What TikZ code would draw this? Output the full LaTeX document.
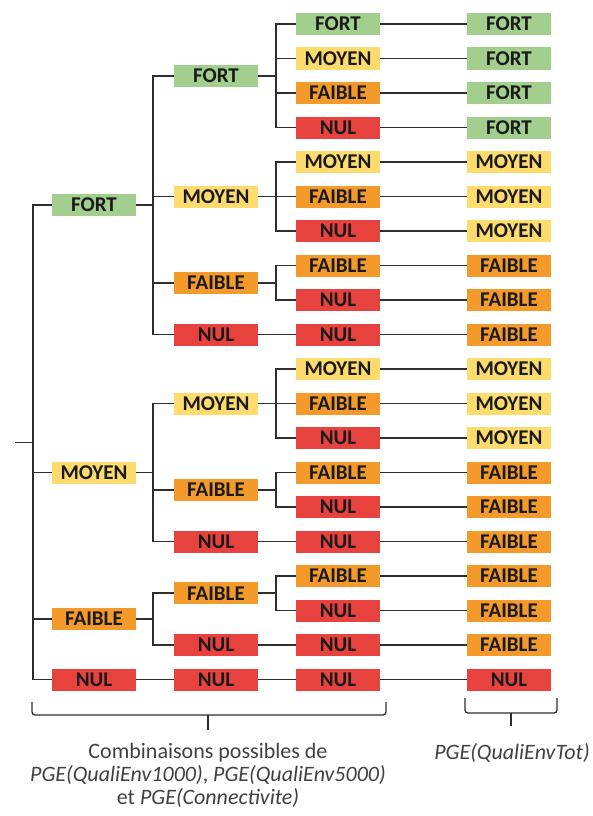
\documentclass[tikz,border=0pt]{standalone}
\usepackage{fontspec}
\setmainfont{Carlito}
\definecolor{cg}{HTML}{A3CF8E}
\definecolor{cy}{HTML}{FDDB6D}
\definecolor{co}{HTML}{F39A2A}
\definecolor{cr}{HTML}{E8423F}
\definecolor{ln}{HTML}{2E2E2E}
\definecolor{tx}{HTML}{1A1A1A}
\tikzset{
  box/.style={minimum width=84pt, minimum height=22pt, inner sep=0pt,
    font=\bfseries\fontsize{21}{21}\selectfont, text=tx},
  FORT/.style={box, fill=cg},
  MOYEN/.style={box, fill=cy},
  FAIBLE/.style={box, fill=co},
  NUL/.style={box, fill=cr},
  conn/.style={draw=ln, line width=1.6pt},
  brace/.style={draw=ln, line width=1.3pt, rounded corners=3pt},
  caption/.style={font=\fontsize{22}{23}\selectfont, text=black!75, align=center, inner sep=0pt}
}
\begin{document}
\begin{tikzpicture}[x=1pt, y=-1pt]
\useasboundingbox (0,0) rectangle (592,816);
% level 3 and 4
\foreach \i/\a/\b in {1/FORT/FORT, 2/MOYEN/FORT, 3/FAIBLE/FORT, 4/NUL/FORT,
  5/MOYEN/MOYEN, 6/FAIBLE/MOYEN, 7/NUL/MOYEN, 8/FAIBLE/FAIBLE, 9/NUL/FAIBLE,
  10/NUL/FAIBLE, 11/MOYEN/MOYEN, 12/FAIBLE/MOYEN, 13/NUL/MOYEN, 14/FAIBLE/FAIBLE,
  15/NUL/FAIBLE, 16/NUL/FAIBLE, 17/FAIBLE/FAIBLE, 18/NUL/FAIBLE, 19/NUL/FAIBLE,
  20/NUL/NUL} {
  \pgfmathsetmacro{\yy}{24+(\i-1)*34.5}
  \node[\a] (c3-\i) at (338,\yy) {\a};
  \node[\b] (c4-\i) at (509,\yy) {\b};
  \draw[conn] (c3-\i.east) -- (c4-\i.west);
}
% level 2
\node[FORT]   (b1)  at (216,75.75)  {FORT};
\node[MOYEN]  (b2)  at (216,196.5)  {MOYEN};
\node[FAIBLE] (b3)  at (216,282.75) {FAIBLE};
\node[NUL]    (b4)  at (216,334.5)  {NUL};
\node[MOYEN]  (b5)  at (216,403.5)  {MOYEN};
\node[FAIBLE] (b6)  at (216,489.75) {FAIBLE};
\node[NUL]    (b7)  at (216,541.5)  {NUL};
\node[FAIBLE] (b8)  at (216,593.25) {FAIBLE};
\node[NUL]    (b9)  at (216,645)    {NUL};
\node[NUL]    (b10) at (216,679.5)  {NUL};
% level 1
\node[FORT]   (a1) at (94,205.1)  {FORT};
\node[MOYEN]  (a2) at (94,472.5)  {MOYEN};
\node[FAIBLE] (a3) at (94,619.1)  {FAIBLE};
\node[NUL]    (a4) at (94,679.5)  {NUL};
% level2 -> level3
\foreach \p/\cs in {b1/{1,2,3,4}, b2/{5,6,7}, b3/{8,9}, b5/{11,12,13}, b6/{14,15}, b8/{17,18}} {
  \foreach \c in \cs {
    \draw[conn] (\p.east) -- ([xshift=18pt]\p.east) |- (c3-\c.west);
  }
}
\foreach \p/\c in {b4/10, b7/16, b9/19, b10/20} {
  \draw[conn] (\p.east) -- (c3-\c.west);
}
% level1 -> level2
\foreach \p/\cs in {a1/{b1,b2,b3,b4}, a2/{b5,b6,b7}, a3/{b8,b9}} {
  \foreach \c in \cs {
    \draw[conn] (\p.east) -- ([xshift=17pt]\p.east) |- (\c.west);
  }
}
\draw[conn] (a4.east) -- (b10.west);
% trunk
\coordinate (tr) at (33,442.5);
\coordinate (st) at (15,442.5);
\foreach \c in {a1,a2,a3,a4} {
  \draw[conn] (tr) |- (\c.west);
}
\draw[conn] (st) -- (tr);
% braces
\coordinate (bl1) at (32,702);
\coordinate (bl2) at (386,702);
\coordinate (bt1) at (208,730);
\draw[brace] (bl1) -- (32,715) -- (386,715) -- (bl2);
\draw[draw=ln, line width=1.3pt] (208,715) -- (bt1);
\coordinate (br1) at (465,698);
\coordinate (br2) at (557,698);
\coordinate (bt2) at (511,726);
\draw[brace] (br1) -- (465,713) -- (557,713) -- (br2);
\draw[draw=ln, line width=1.3pt] (511,713) -- (bt2);
% captions
\node[caption, anchor=north] (cap1) at (208,743) {Combinaisons possibles de\\\textit{PGE(QualiEnv1000)}, \textit{PGE(QualiEnv5000)}\\et \textit{PGE(Connectivite)}};
\node[caption, anchor=north] (cap2) at (512,743) {\textit{PGE(QualiEnvTot)}};
\end{tikzpicture}
\end{document}
